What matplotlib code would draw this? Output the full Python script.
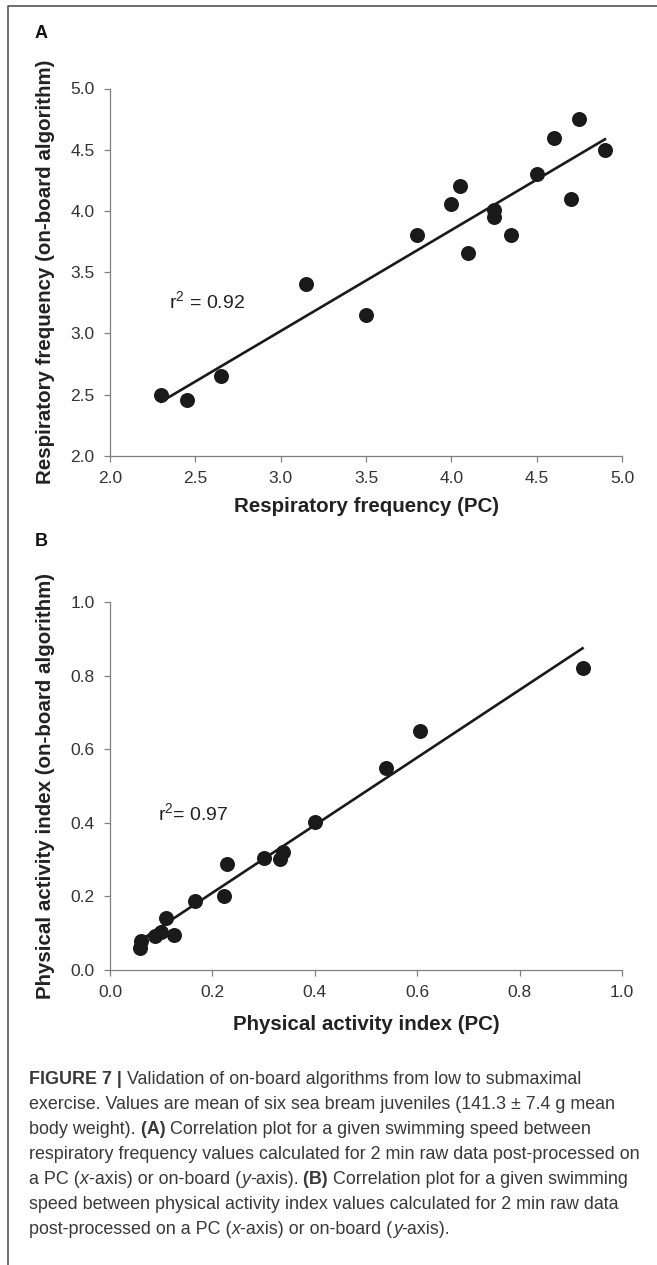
import numpy as np
import matplotlib
matplotlib.use('Agg')
import matplotlib.pyplot as plt

# panel A: respiratory frequency, PC vs on-board
rf_pc = [2.30, 2.45, 2.65, 3.15, 3.50, 3.80, 4.00, 4.05, 4.10, 4.25, 4.25, 4.35, 4.50, 4.60, 4.70, 4.75, 4.90]
rf_board = [2.50, 2.455, 2.65, 3.40, 3.15, 3.80, 4.055, 4.205, 3.655, 4.006, 3.95, 3.80, 4.305, 4.60, 4.10, 4.755, 4.50]
rf_fit = (0.824, 0.548)   # slope, intercept
rf_ticks = [2.0, 2.5, 3.0, 3.5, 4.0, 4.5, 5.0]
rf_ticklabels = ['2.0', '2.5', '3.0', '3.5', '4.0', '4.5', '5.0']

# panel B: physical activity index, PC vs on-board
pa_pc = [0.058, 0.061, 0.087, 0.100, 0.109, 0.125, 0.166, 0.223, 0.229, 0.300, 0.333, 0.337, 0.401, 0.539, 0.606, 0.923]
pa_board = [0.060, 0.078, 0.092, 0.104, 0.140, 0.094, 0.187, 0.200, 0.287, 0.305, 0.301, 0.322, 0.402, 0.549, 0.650, 0.821]
pa_fit = (0.919, 0.026)
pa_ticks = [0.0, 0.2, 0.4, 0.6, 0.8, 1.0]
pa_ticklabels = ['0.0', '0.2', '0.4', '0.6', '0.8', '1.0']

W, H = 657, 1265

def fx(px):
    return px / W

def fy(py):
    return 1 - py / H

plt.rcParams['font.family'] = ['Liberation Sans', 'DejaVu Sans']
plt.rcParams['mathtext.fontset'] = 'custom'
plt.rcParams['mathtext.rm'] = 'Liberation Sans'

fig = plt.figure(figsize=(W / 100, H / 100), dpi=100)

bg = fig.add_axes([0, 0, 1, 1])
bg.set_xlim(0, W)
bg.set_ylim(H, 0)
bg.axis('off')
bg.plot([8, 8, W], [H, 6, 6], color='#555555', lw=1.2, solid_capstyle='butt')

axA = fig.add_axes([fx(110), fy(456), (622 - 110) / W, (456 - 88.5) / H])
axB = fig.add_axes([fx(110), fy(970), (622 - 110) / W, (970 - 602) / H])


def style(ax, ticks, labels):
    for s in ['top', 'right']:
        ax.spines[s].set_visible(False)
    for s in ['left', 'bottom']:
        ax.spines[s].set_color('#808080')
        ax.spines[s].set_linewidth(0.9)
    ax.set_xlim(ticks[0], ticks[-1])
    ax.set_ylim(ticks[0], ticks[-1])
    ax.set_xticks(ticks)
    ax.set_xticklabels(labels)
    ax.set_yticks(ticks)
    ax.set_yticklabels(labels)
    ax.tick_params(direction='out', length=4, width=0.9, color='#808080',
                   labelsize=12.5, labelcolor='#333333', pad=7)


def panel(ax, x, y, fit, ticks, labels):
    style(ax, ticks, labels)
    xs = np.array([min(x), max(x)])
    ax.plot(xs, fit[0] * xs + fit[1], color='#1a1a1a', lw=1.9, zorder=2)
    ax.plot(x, y, 'o', color='#1a1a1a', ms=10.8, mec='none', zorder=3, clip_on=False)


panel(axA, rf_pc, rf_board, rf_fit, rf_ticks, rf_ticklabels)
panel(axB, pa_pc, pa_board, pa_fit, pa_ticks, pa_ticklabels)

axA.text(2.345, 3.20, r'r$^2$ = 0.92', fontsize=14, color='#222222', va='baseline')
axB.text(0.094, 0.405, r'r$^2$= 0.97', fontsize=14, color='#222222', va='baseline')

lab = dict(fontsize=14.8, fontweight='bold', color='#222222')
fig.text(fx(35), fy(33), 'A', fontsize=13, fontweight='bold', color='#111111', va='center', ha='left')
fig.text(fx(35), fy(542), 'B', fontsize=13, fontweight='bold', color='#111111', va='center', ha='left')
fig.text(fx(46), fy(272), 'Respiratory frequency (on-board algorithm)', rotation=90,
         ha='center', va='center', **lab)
fig.text(fx(46), fy(786), 'Physical activity index (on-board algorithm)', rotation=90,
         ha='center', va='center', **lab)
fig.text(fx(366), fy(507), 'Respiratory frequency (PC)', ha='center', va='center', **lab)
fig.text(fx(366), fy(1024), 'Physical activity index (PC)', ha='center', va='center', **lab)

caption = [
    [('FIGURE 7 |', 'bold', 'normal'), (' Validation of on-board algorithms from low to submaximal', 'normal', 'normal')],
    [('exercise. Values are mean of six sea bream juveniles (141.3 \u00b1 7.4 g mean', 'normal', 'normal')],
    [('body weight).', 'normal', 'normal'), (' (A)', 'bold', 'normal'),
     (' Correlation plot for a given swimming speed between', 'normal', 'normal')],
    [('respiratory frequency values calculated for 2 min raw data post-processed on', 'normal', 'normal')],
    [('a PC (', 'normal', 'normal'), ('x', 'normal', 'italic'), ('-axis) or on-board (', 'normal', 'normal'),
     ('y', 'normal', 'italic'), ('-axis).', 'normal', 'normal'), (' (B)', 'bold', 'normal'),
     (' Correlation plot for a given swimming', 'normal', 'normal')],
    [('speed between physical activity index values calculated for 2 min raw data', 'normal', 'normal')],
    [('post-processed on a PC (', 'normal', 'normal'), ('x', 'normal', 'italic'),
     ('-axis) or on-board (', 'normal', 'normal'), ('y', 'normal', 'italic'), ('-axis).', 'normal', 'normal')],
]

y0 = 1084
for i, parts in enumerate(caption):
    prev = None
    for txt, weight, st in parts:
        kw = dict(fontsize=12.9, fontweight=weight, fontstyle=st, color='#383838', ha='left')
        if prev is None:
            prev = bg.text(29, y0 + i * 25.0, txt, va='baseline', **kw)
        else:
            prev = bg.annotate(txt, xy=(1, 0), xycoords=prev, va='bottom', **kw)

fig.savefig('out.png', dpi=100)
